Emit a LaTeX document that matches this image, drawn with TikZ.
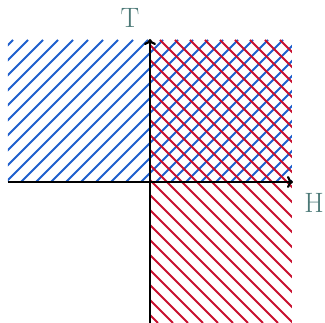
\documentclass[tikz,border=0pt]{standalone}
\usetikzlibrary{arrows.meta}
\definecolor{hblue}{RGB}{30,95,205}
\definecolor{hred}{RGB}{200,16,46}
\definecolor{lbl}{RGB}{75,120,118}
\tikzset{
  hatch/.style={line width=2pt},
  axis/.style={line width=2.2pt,-{To[length=6pt,width=12pt]}},
  lab/.style={text=lbl,font=\fontsize{28}{32}\selectfont,inner sep=0pt}
}
\begin{document}
\begin{tikzpicture}[x=1pt,y=-1pt]
\useasboundingbox (0,0) rectangle (325,323);
% blue hatching: region x 8..292, y 40..182
\begin{scope}
\clip (8,40) rectangle (292,182);
\foreach \c in {38,53,...,488}{
  \draw[hatch,hblue] (\c-40,40) -- (\c-182,182);
}
\end{scope}
% red hatching: region x 150..292, y 40..323
\begin{scope}
\clip (150,40) rectangle (292,323);
\foreach \c in {-180,-165,...,260}{
  \draw[hatch,hred] (\c+40,40) -- (\c+323,323);
}
\end{scope}
\coordinate (xs) at (8,182);
\coordinate (xe) at (293,182);
\coordinate (ys) at (150,323);
\coordinate (ye) at (150,39);
\draw[axis] (xs) -- (xe);
\draw[axis] (ys) -- (ye);
\node[lab] (T) at (130,18) {T};
\node[lab] (H) at (314,203) {H};
\end{tikzpicture}
\end{document}
